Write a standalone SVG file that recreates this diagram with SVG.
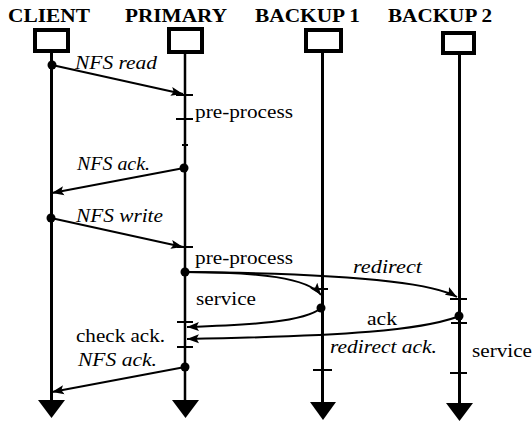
<svg xmlns="http://www.w3.org/2000/svg" width="532" height="422" viewBox="0 0 532 422">
  <style>
    .hdr { font-family: "Liberation Serif", "Times New Roman", serif; font-weight: bold; font-size: 18px; fill: #000; }
    .lbl { font-family: "Liberation Serif", "Times New Roman", serif; font-size: 18px; fill: #000; }
    .it { font-style: italic; }
    .box { fill: #fff; stroke: #000; stroke-width: 4; }
    .life { stroke: #000; stroke-width: 3; fill: none; }
    .end { fill: #000; }
    .tick { stroke: #000; stroke-width: 2; }
    .msg { stroke: #000; stroke-width: 2; fill: none; marker-end: url(#head); }
    .dot { fill: #000; }
  </style>
  <defs>
    <marker id="head" markerUnits="userSpaceOnUse" markerWidth="13" markerHeight="10" refX="12" refY="5" orient="auto">
      <path d="M0,0.5 L12,5 L0,9.5 L2.5,5 Z" fill="#000"/>
    </marker>
  </defs>
  <rect width="532" height="422" fill="#fff"/>

  <!-- participants: label, box, lifeline, end arrow -->
  <g id="client">
    <text class="hdr" x="8" y="22" textLength="82" lengthAdjust="spacingAndGlyphs">CLIENT</text>
    <line class="life" x1="51.5" y1="53" x2="51.5" y2="402"/>
    <rect class="box" x="35" y="30" width="33" height="21"/>
    <polygon class="end" points="38,400 65,400 51.5,418"/>
  </g>
  <g id="primary">
    <text class="hdr" x="125" y="22" textLength="102" lengthAdjust="spacingAndGlyphs">PRIMARY</text>
    <line class="life" x1="185" y1="54" x2="185" y2="402" style="stroke-width:2.5"/>
    <rect class="box" x="169" y="29" width="33" height="23"/>
    <polygon class="end" points="172,400 199,400 185.5,418"/>
  </g>
  <g id="backup1">
    <text class="hdr" x="255" y="22" textLength="105" lengthAdjust="spacingAndGlyphs">BACKUP 1</text>
    <line class="life" x1="322.5" y1="53" x2="322.5" y2="404"/>
    <rect class="box" x="306" y="30" width="35" height="21"/>
    <polygon class="end" points="310,402 336,402 323,420"/>
  </g>
  <g id="backup2">
    <text class="hdr" x="388" y="22" textLength="104" lengthAdjust="spacingAndGlyphs">BACKUP 2</text>
    <line class="life" x1="459.5" y1="55" x2="459.5" y2="405"/>
    <rect class="box" x="443" y="33" width="31" height="20"/>
    <polygon class="end" points="446,403 473,403 459.5,421"/>
  </g>

  <!-- processing marks on lifelines -->
  <g id="ticks">
    <line class="tick" x1="176" y1="95" x2="193" y2="95"/>
    <line class="tick" x1="176" y1="119" x2="193" y2="119"/>
    <line class="tick" x1="182" y1="145" x2="188" y2="145"/>
    <line class="tick" x1="177" y1="247" x2="193" y2="247"/>
    <line class="tick" x1="177" y1="322" x2="193" y2="322"/>
    <line class="tick" x1="177" y1="347" x2="193" y2="347"/>
    <line class="tick" x1="318" y1="289" x2="328" y2="289"/>
    <line class="tick" x1="313" y1="370" x2="332" y2="370"/>
    <line class="tick" x1="450" y1="299" x2="467" y2="299"/>
    <line class="tick" x1="451" y1="323" x2="467" y2="323"/>
    <line class="tick" x1="450" y1="373" x2="467" y2="373"/>
  </g>

  <!-- messages between lifelines -->
  <g id="connectors">
    <line class="msg" x1="52" y1="65" x2="183" y2="94"/>
    <line class="msg" x1="184" y1="168" x2="52" y2="193"/>
    <line class="msg" x1="51" y1="218" x2="183" y2="247"/>
    <path class="msg" d="M185,272 C300,273 425,278 457,297"/>
    <path class="msg" d="M185,272 C260,272 308,278 321,295"/>
    <path class="msg" d="M321,308 C305,322 250,325 187,327"/>
    <path class="msg" d="M457,317 C420,330 350,336 187,339"/>
    <line class="msg" x1="185" y1="367" x2="52" y2="392"/>
    <circle class="dot" cx="52" cy="65" r="4.5"/>
    <circle class="dot" cx="184" cy="168" r="4.5"/>
    <circle class="dot" cx="51" cy="218" r="4.5"/>
    <circle class="dot" cx="185" cy="272" r="4.5"/>
    <circle class="dot" cx="321" cy="308" r="4.5"/>
    <circle class="dot" cx="459" cy="316" r="4.5"/>
    <circle class="dot" cx="185" cy="367" r="4.5"/>
  </g>

  <!-- message and activity labels -->
  <g id="labels">
    <text class="lbl it" x="75" y="69" textLength="82" lengthAdjust="spacingAndGlyphs">NFS read</text>
    <text class="lbl" x="195" y="118" textLength="98" lengthAdjust="spacingAndGlyphs">pre-process</text>
    <text class="lbl it" x="77" y="170" textLength="73" lengthAdjust="spacingAndGlyphs">NFS ack.</text>
    <text class="lbl it" x="76" y="222" textLength="87" lengthAdjust="spacingAndGlyphs">NFS write</text>
    <text class="lbl" x="195" y="264" textLength="98" lengthAdjust="spacingAndGlyphs">pre-process</text>
    <text class="lbl it" x="353" y="273" textLength="69" lengthAdjust="spacingAndGlyphs">redirect</text>
    <text class="lbl" x="196" y="305" textLength="60" lengthAdjust="spacingAndGlyphs">service</text>
    <text class="lbl" x="367" y="325" textLength="30" lengthAdjust="spacingAndGlyphs">ack</text>
    <text class="lbl" x="76" y="342" textLength="89" lengthAdjust="spacingAndGlyphs">check ack.</text>
    <text class="lbl it" x="330" y="353" textLength="107" lengthAdjust="spacingAndGlyphs">redirect ack.</text>
    <text class="lbl" x="472" y="357" textLength="60" lengthAdjust="spacingAndGlyphs">service</text>
    <text class="lbl it" x="78" y="366" textLength="79" lengthAdjust="spacingAndGlyphs">NFS ack.</text>
  </g>
</svg>
